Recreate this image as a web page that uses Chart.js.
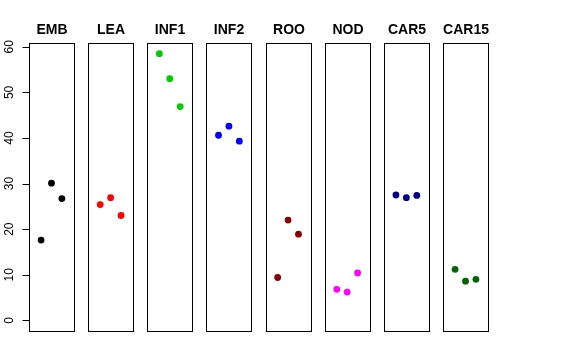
<!DOCTYPE html>
<html>
<head>
<meta charset="utf-8">
<script src="https://cdn.jsdelivr.net/npm/chart.js@4/dist/chart.umd.min.js"></script>
<style>
html,body{margin:0;padding:0;background:#fff;}
canvas{display:block;}
</style>
</head>
<body>
<canvas id="c" width="576" height="360"></canvas>
<script>
// ---- data ----
const categories = ["EMB", "LEA", "INF1", "INF2", "ROO", "NOD", "CAR5", "CAR15"];
const EMB   = [17.6, 30.1, 26.7];
const LEA   = [25.4, 26.9, 23.0];
const INF1  = [58.5, 53.0, 46.9];
const INF2  = [40.6, 42.6, 39.3];
const ROO   = [9.4, 22.0, 18.9];
const NOD   = [6.8, 6.2, 10.4];
const CAR5  = [27.5, 26.9, 27.4];
const CAR15 = [11.2, 8.6, 9.0];
const yTicks = [0, 10, 20, 30, 40, 50, 60];

const seriesValues = [EMB, LEA, INF1, INF2, ROO, NOD, CAR5, CAR15];
const seriesColors = ["#000000", "#FF0000", "#00CD00", "#0000FF", "#8B0000", "#FF00FF", "#00008B", "#006400"];

// ---- layout in data units ----
const PITCH = 5.68;      // panel spacing in x units
const PAD = 0.16;        // extension around points 0..4
const YMIN = -2.34, YMAX = 60.84;
const FONT = '"Liberation Sans", Arial, Helvetica, sans-serif';

const datasets = seriesValues.map((vals, i) => ({
  label: categories[i],
  data: vals.map((v, j) => ({ x: i * PITCH + j + 1, y: v })),
  backgroundColor: seriesColors[i],
  borderColor: seriesColors[i],
  pointRadius: 3.4,
  pointBorderWidth: 0,
  showLine: false
}));

const panelPlugin = {
  id: 'panels',
  beforeDatasetsDraw(chart) {
    const ctx = chart.ctx;
    const xs = chart.scales.x, ys = chart.scales.y;
    const top = ys.getPixelForValue(YMAX);
    const bot = ys.getPixelForValue(YMIN);
    ctx.save();
    // panel boxes and titles
    categories.forEach((name, i) => {
      const l = Math.round(xs.getPixelForValue(i * PITCH - PAD)) + 0.5;
      const r = Math.round(xs.getPixelForValue(i * PITCH + 4 + PAD)) + 0.5;
      ctx.strokeStyle = '#000';
      ctx.lineWidth = 1;
      ctx.strokeRect(l, Math.round(top) + 0.5, r - l, Math.round(bot) - Math.round(top));
      ctx.fillStyle = '#000';
      ctx.font = 'bold 14px ' + FONT;
      ctx.textAlign = 'center';
      ctx.textBaseline = 'alphabetic';
      ctx.fillText(name, (l + r) / 2, 34);
    });
    // y axis
    const ax = Math.round(xs.getPixelForValue(-PAD)) + 0.5;
    const y0 = ys.getPixelForValue(yTicks[0]);
    const y1 = ys.getPixelForValue(yTicks[yTicks.length - 1]);
    ctx.strokeStyle = '#000';
    ctx.beginPath();
    ctx.moveTo(ax, Math.round(y0) + 0.5);
    ctx.lineTo(ax, Math.round(y1) + 0.5);
    yTicks.forEach(t => {
      const py = Math.round(ys.getPixelForValue(t)) + 0.5;
      ctx.moveTo(ax, py);
      ctx.lineTo(ax - 7, py);
    });
    ctx.stroke();
    ctx.font = '12px ' + FONT;
    ctx.fillStyle = '#000';
    yTicks.forEach(t => {
      const py = ys.getPixelForValue(t);
      ctx.save();
      ctx.translate(13, py);
      ctx.rotate(-Math.PI / 2);
      ctx.textAlign = 'center';
      ctx.textBaseline = 'alphabetic';
      ctx.fillText(String(t), 0, 0);
      ctx.restore();
    });
    ctx.restore();
  }
};

new Chart(document.getElementById('c'), {
  type: 'scatter',
  data: { datasets },
  options: {
    responsive: false,
    animation: false,
    layout: { padding: { left: 29, right: 88, top: 43, bottom: 29 } },
    plugins: { legend: { display: false }, tooltip: { enabled: false } },
    scales: {
      x: { type: 'linear', display: false, min: -PAD, max: 7 * PITCH + 4 + PAD },
      y: { type: 'linear', display: false, min: YMIN, max: YMAX }
    }
  },
  plugins: [panelPlugin]
});
</script>
</body>
</html>
